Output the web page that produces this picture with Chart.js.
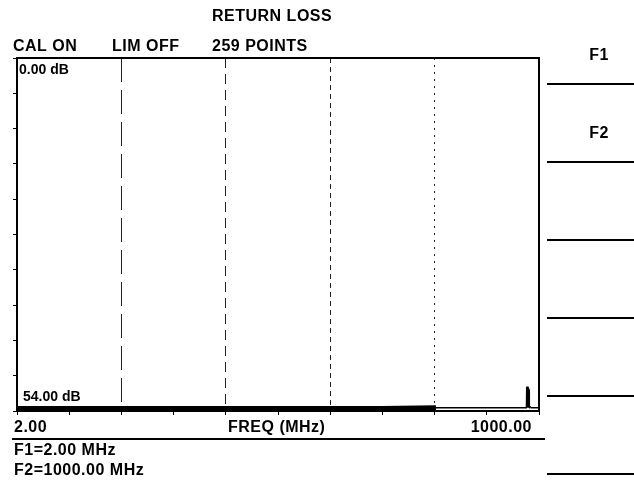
<!DOCTYPE html>
<html>
<head>
<meta charset="utf-8">
<script src="https://cdn.jsdelivr.net/npm/chart.js@4.4.0/dist/chart.umd.min.js"></script>
<style>
  html, body { margin: 0; padding: 0; background: #fff; }
</style>
</head>
<body>
<canvas id="rl" width="634" height="485"></canvas>
<script>
// trace: sits on the floor, one spike near the top end
const freqMHz = [2, 100, 200, 300, 400, 500, 600, 700, 803, 900, 975, 977, 977.5, 980, 980.5, 984, 1000];
const returnLossDb = [53.6, 53.6, 53.6, 53.6, 53.6, 53.6, 53.6, 53.6, 53.5, 53.5, 53.5, 53.5, 50.3, 50.8, 53.3, 53.5, 53.5];

const freqTicks = [2, 101.8, 201.6, 301.4, 401.2, 501, 600.8, 700.6, 800.4, 900.2, 1000];
const dbTicks = [0, 5.4, 10.8, 16.2, 21.6, 27, 32.4, 37.8, 43.2, 48.6, 54];

const headerLabels = ["CAL ON", "LIM OFF", "259 POINTS"];
const softKeys = ["F1", "F2"];

const FONT = '"Liberation Sans", Arial, sans-serif';
// each vertical division line looks different on the scan
const vDash = { 2: [24, 8], 4: [10, 6], 6: [5, 4], 8: [2, 5] };

const screenText = {
  id: "screenText",
  afterDraw(chart) {
    const ctx = chart.ctx;
    const a = chart.chartArea;
    ctx.save();
    ctx.strokeStyle = "#000";
    ctx.lineWidth = 2;
    ctx.strokeRect(a.left, a.top, a.right - a.left, a.bottom - a.top);

    // soft key separators on the right
    [84, 162, 240, 318, 396, 474].forEach(y => {
      ctx.beginPath(); ctx.moveTo(547, y); ctx.lineTo(634, y); ctx.stroke();
    });
    // rule under the frequency line
    ctx.beginPath(); ctx.moveTo(12, 439); ctx.lineTo(545, 439); ctx.stroke();

    ctx.fillStyle = "#000";
    ctx.textBaseline = "middle";
    ctx.font = "bold 16px " + FONT;
    ctx.letterSpacing = "0.5px";
    ctx.textAlign = "left";
    ctx.fillText("RETURN LOSS", 212, 17);
    ctx.fillText(headerLabels[0], 13, 47);
    ctx.fillText(headerLabels[1], 112, 47);
    ctx.fillText(headerLabels[2], 212, 47);

    ctx.textAlign = "center";
    ctx.fillText(softKeys[0], 599, 56);
    ctx.fillText(softKeys[1], 599, 134);

    const f1 = freqTicks[0].toFixed(2);
    const f2 = freqTicks[freqTicks.length - 1].toFixed(2);
    ctx.textAlign = "left";
    ctx.fillText(f1, 14, 428);
    ctx.fillText("FREQ (MHz)", 228, 428);
    ctx.fillText("F1=" + f1 + " MHz", 14, 451);
    ctx.fillText("F2=" + f2 + " MHz", 14, 471);
    ctx.textAlign = "right";
    ctx.fillText(f2, 532, 428);

    ctx.font = "bold 14px " + FONT;
    ctx.letterSpacing = "0px";
    ctx.textAlign = "left";
    ctx.fillText(dbTicks[0].toFixed(2) + " dB", 19, 70);
    ctx.fillText(dbTicks[dbTicks.length - 1].toFixed(2) + " dB", 23, 397);
    ctx.restore();
  }
};

new Chart(document.getElementById("rl"), {
  type: "line",
  data: {
    datasets: [{
      data: freqMHz.map((f, i) => ({ x: f, y: returnLossDb[i] })),
      borderColor: "#000",
      borderWidth: 1.5,
      borderJoinStyle: "bevel",
      pointRadius: 0,
      tension: 0,
      segment: {
        borderWidth: c => c.p0.parsed.x < 800 ? 5 : (c.p0.parsed.x >= 977 && c.p0.parsed.x < 981 ? 2.5 : 1.5)
      }
    }]
  },
  options: {
    responsive: false,
    animation: false,
    layout: { padding: { left: 17, top: 58, right: 95, bottom: 74 } },
    plugins: { legend: { display: false }, tooltip: { enabled: false } },
    scales: {
      x: {
        type: "linear",
        min: 2,
        max: 1000,
        afterBuildTicks: s => { s.ticks = freqTicks.map(v => ({ value: v })); },
        afterFit: s => { s.height = 0; },
        ticks: { display: false },
        grid: {
          color: c => vDash[c.index] ? "#222" : "rgba(0,0,0,0)",
          tickColor: "#000",
          tickLength: 4,
          lineWidth: 1
        },
        border: { display: false, dash: c => vDash[c.index] || [] }
      },
      y: {
        min: 0,
        max: 54,
        reverse: true,
        afterBuildTicks: s => { s.ticks = dbTicks.map(v => ({ value: v })); },
        afterFit: s => { s.width = 0; },
        ticks: { display: false },
        grid: {
          color: "rgba(0,0,0,0)",
          tickColor: "#000",
          tickLength: 4
        },
        border: { display: false }
      }
    }
  },
  plugins: [screenText]
});
</script>
</body>
</html>
